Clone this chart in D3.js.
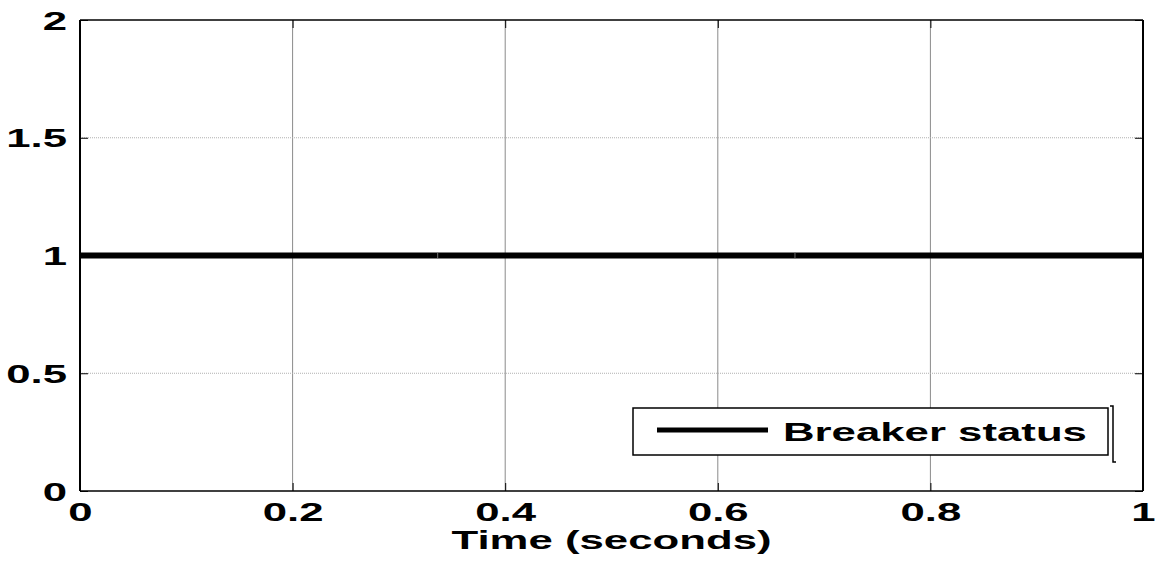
<!DOCTYPE html>
<html>
<head>
<meta charset="utf-8">
<script src="https://cdn.jsdelivr.net/npm/d3@7/dist/d3.min.js"></script>
<style>
  html, body { margin: 0; padding: 0; background: #fff; }
  svg { display: block; }
  text { font-family: "Liberation Sans", Arial, sans-serif; font-weight: bold; fill: #000; }
</style>
</head>
<body>
<svg id="chart" width="1157" height="562"></svg>
<script>
// Breaker status signal over the simulation window
const breakerTime   = [0, 0.3365, 0.6726, 1];
const breakerStatus = [1, 1, 1, 1];

const xTicks = [0, 0.2, 0.4, 0.6, 0.8, 1];
const yTicks = [0, 0.5, 1, 1.5, 2];
const xTickLabels = ["0", "0.2", "0.4", "0.6", "0.8", "1"];
const yTickLabels = ["0", "0.5", "1", "1.5", "2"];

const xTitle = "Time (seconds)";
const legendLabel = "Breaker status";

const W = 1157, H = 562;
const M = { left: 80, right: 14, top: 20, bottom: 71 };
const STRETCH = 1.75;   // wide bold lettering
const FS = 25;

const svg = d3.select("#chart");

const x = d3.scaleLinear().domain([0, 1]).range([M.left, W - M.right]);
const y = d3.scaleLinear().domain([0, 2]).range([H - M.bottom, M.top]);

// grid
const grid = svg.append("g");
grid.selectAll("line.vx")
  .data(xTicks.slice(1, -1))
  .join("line")
  .attr("x1", d => x(d)).attr("x2", d => x(d))
  .attr("y1", y(0)).attr("y2", y(2))
  .attr("stroke", "#8a8a8a").attr("stroke-width", 1);
grid.selectAll("line.hy")
  .data(yTicks.slice(1, -1))
  .join("line")
  .attr("x1", x(0)).attr("x2", x(1))
  .attr("y1", d => y(d)).attr("y2", d => y(d))
  .attr("stroke", "#b0b0b0").attr("stroke-width", 1)
  .attr("stroke-dasharray", "1,1");

// data line, one piece per sample interval
const pts = breakerTime.map((t, i) => [t, breakerStatus[i]]);
const line = d3.line().x(d => x(d[0])).y(d => y(d[1]));
const segs = d3.pairs(pts);
svg.append("g").selectAll("path")
  .data(segs)
  .join("path")
  .attr("d", d => line(d))
  .attr("fill", "none")
  .attr("stroke", "#000")
  .attr("stroke-width", 6)
  .attr("stroke-linecap", "butt");
// faint seams where the pieces meet
svg.append("g").selectAll("line")
  .data(pts.slice(1, -1))
  .join("line")
  .attr("x1", d => x(d[0])).attr("x2", d => x(d[0]))
  .attr("y1", d => y(d[1]) - 3).attr("y2", d => y(d[1]) + 3)
  .attr("stroke", "#666").attr("stroke-width", 1);

// axes
function styleTicks(g) {
  g.selectAll(".tick line").attr("stroke", "#000").attr("stroke-width", 1);
  g.select(".domain").remove();
}

const gx = svg.append("g")
  .attr("transform", `translate(0,${y(0)})`)
  .call(d3.axisBottom(x).tickValues(xTicks)
    .tickFormat((d, i) => xTickLabels[i]).tickSizeInner(-8).tickSizeOuter(0));
styleTicks(gx);
gx.selectAll(".tick text")
  .attr("font-size", FS).attr("y", 30).attr("dy", 0)
  .attr("transform", `scale(${STRETCH},1)`);

const gy = svg.append("g")
  .attr("transform", `translate(${x(0)},0)`)
  .call(d3.axisLeft(y).tickValues(yTicks)
    .tickFormat((d, i) => yTickLabels[i]).tickSizeInner(-8).tickSizeOuter(0));
styleTicks(gy);
gy.selectAll(".tick text")
  .attr("font-size", FS).attr("x", -13 / STRETCH).attr("dy", 9)
  .attr("transform", `scale(${STRETCH},1)`);

const gt = svg.append("g")
  .attr("transform", `translate(0,${y(2)})`)
  .call(d3.axisTop(x).tickValues(xTicks).tickFormat("").tickSizeInner(-8).tickSizeOuter(0));
styleTicks(gt);

const gr = svg.append("g")
  .attr("transform", `translate(${x(1)},0)`)
  .call(d3.axisRight(y).tickValues(yTicks).tickFormat("").tickSizeInner(-8).tickSizeOuter(0));
styleTicks(gr);

// frame
const frame = svg.append("g").attr("stroke", "#000").attr("fill", "none");
frame.append("line").attr("x1", x(0)).attr("x2", x(1)).attr("y1", y(2)).attr("y2", y(2)).attr("stroke-width", 1.5);
frame.append("line").attr("x1", x(0)).attr("x2", x(1)).attr("y1", y(0)).attr("y2", y(0)).attr("stroke-width", 1.5);
frame.append("line").attr("x1", x(0)).attr("x2", x(0)).attr("y1", y(2)).attr("y2", y(0)).attr("stroke-width", 2);
frame.append("line").attr("x1", x(1)).attr("x2", x(1)).attr("y1", y(2)).attr("y2", y(0)).attr("stroke-width", 2);

// axis title
svg.append("text")
  .attr("transform", `translate(${(x(0) + x(1)) / 2},549) scale(${STRETCH},1)`)
  .attr("text-anchor", "middle")
  .attr("font-size", FS)
  .text(xTitle);

// legend
const lg = svg.append("g").attr("transform", "translate(633,408)");
lg.append("rect")
  .attr("x", 0).attr("y", 0).attr("width", 475).attr("height", 47)
  .attr("fill", "#fff").attr("stroke", "#000").attr("stroke-width", 1.5);
lg.append("path")
  .attr("d", "M477,-2 H480 V54 H483")
  .attr("fill", "none").attr("stroke", "#000").attr("stroke-width", 1.5);
lg.append("line")
  .attr("x1", 24).attr("x2", 135).attr("y1", 22).attr("y2", 22)
  .attr("stroke", "#000").attr("stroke-width", 5);
lg.append("text")
  .attr("transform", `translate(150,33) scale(${STRETCH},1)`)
  .attr("font-size", FS)
  .text(legendLabel);
</script>
</body>
</html>
